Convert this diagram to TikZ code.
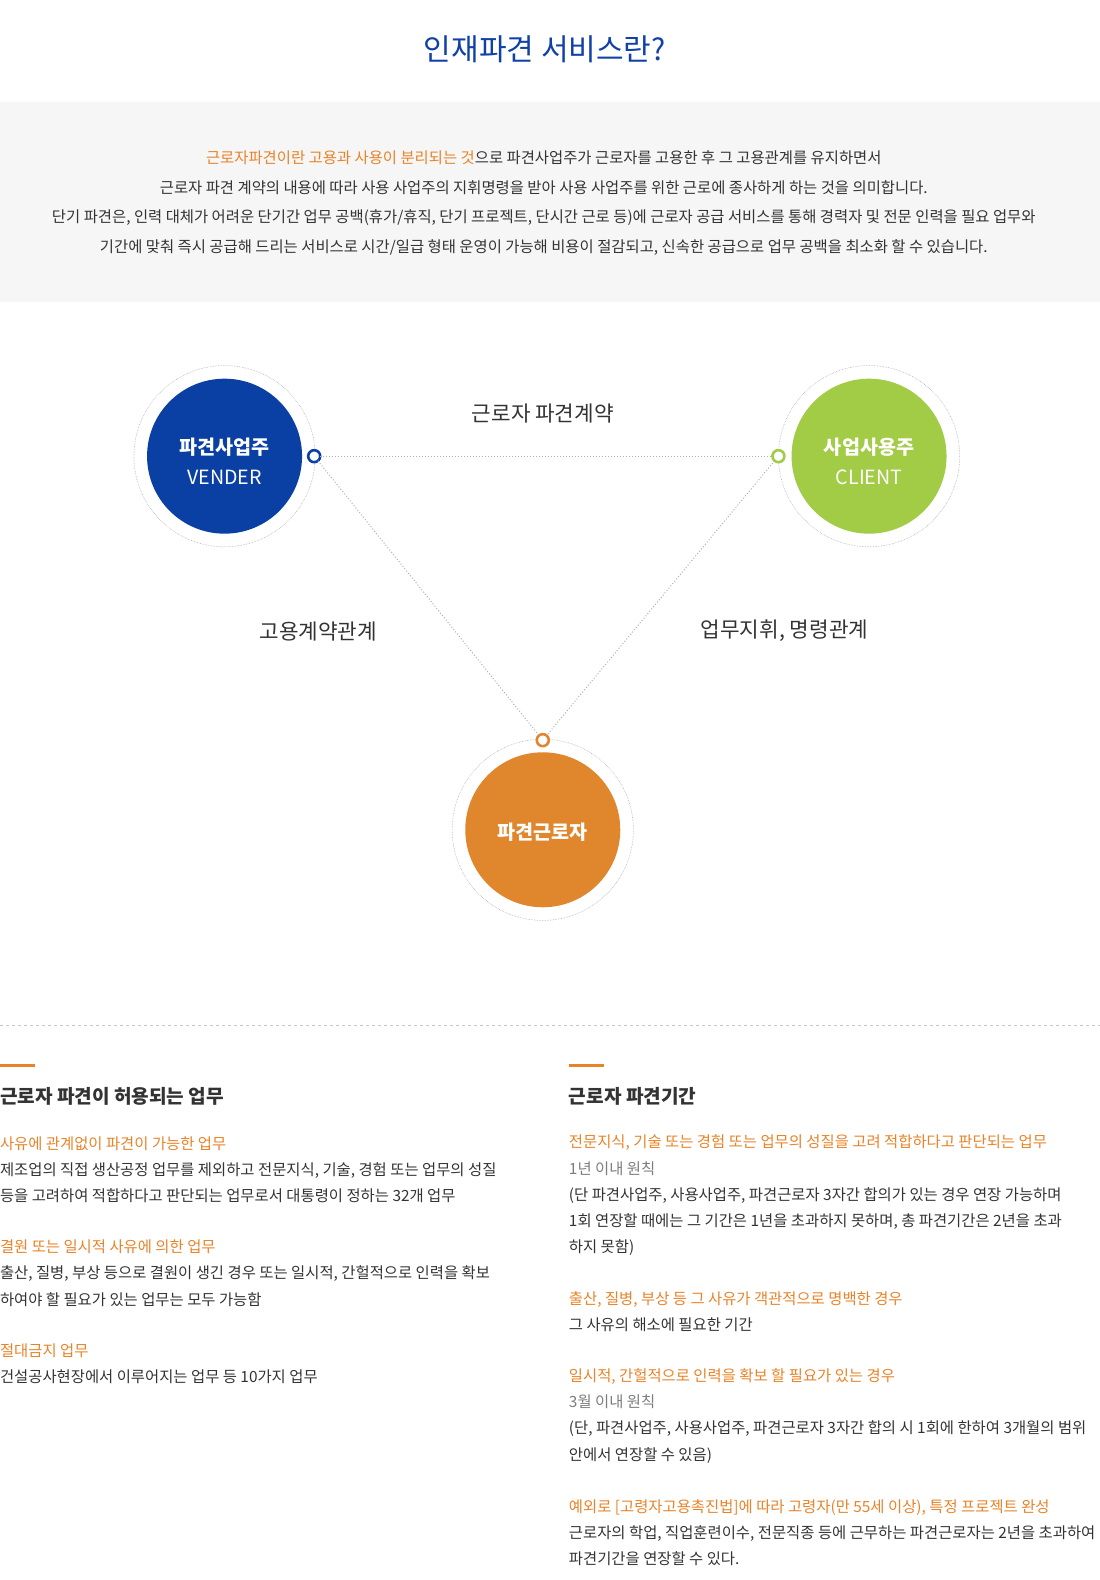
\documentclass[tikz,border=0pt]{standalone}
\usepackage{fontspec}
\setmainfont{Noto Sans CJK KR}
\usepackage{xcolor}
\definecolor{tblue}{RGB}{16,64,168}
\definecolor{vblue}{RGB}{10,63,163}
\definecolor{cgreen}{RGB}{162,203,70}
\definecolor{worange}{RGB}{224,135,46}
\definecolor{hlorange}{RGB}{232,131,40}
\definecolor{dark}{RGB}{51,51,51}
\definecolor{midgray}{RGB}{125,125,125}
\definecolor{linegray}{RGB}{175,175,175}
\definecolor{boxgray}{RGB}{246,246,246}
\usetikzlibrary{positioning}

\begin{document}
\begin{tikzpicture}[x=1.007pt,y=-1.007pt,every node/.style={inner sep=0pt,outer sep=0pt},
  txt/.style={anchor=base west,font=\fontsize{15.4}{15}\selectfont,text=dark},
  hl/.style={txt,text=hlorange},
  note/.style={txt,text=midgray},
  info/.style={anchor=base,font=\fontsize{15.4}{15}\selectfont,text=dark},
  big/.style={circle,minimum size=155pt},
  bigtext/.style={text=white,align=center,font=\fontsize{19.6}{30}\selectfont},
  halo/.style={draw=linegray,densely dotted,line width=.6pt},
  dotmark/.style={circle,draw=#1,fill=white,line width=2.6pt,minimum size=12pt},
  link/.style={draw=linegray,dotted,line width=1pt},
  rel/.style={font=\fontsize{21.3}{21}\selectfont,text=dark},
  head/.style={anchor=base west,font=\fontsize{19.1}{19}\selectfont\bfseries,text=dark},
  bar/.style={draw=hlorange,line width=3pt}]
\useasboundingbox (0pt,0pt) rectangle (1100pt,-1580pt);

% title and intro
\node[font=\fontsize{30}{30}\selectfont,text=tblue] (title) at (541,49) {인재파견 서비스란?};
\fill[boxgray] (0,101) rectangle (1092,300);
\node[info] (i1) at (540,162) {\textcolor{hlorange}{근로자파견이란 고용과 사용이 분리되는 것}으로 파견사업주가 근로자를 고용한 후 그 고용관계를 유지하면서};
\node[info] (i2) at (540,192) {근로자 파견 계약의 내용에 따라 사용 사업주의 지휘명령을 받아 사용 사업주를 위한 근로에 종사하게 하는 것을 의미합니다.};
\node[info] (i3) at (540,221) {단기 파견은, 인력 대체가 어려운 단기간 업무 공백(휴가/휴직, 단기 프로젝트, 단시간 근로 등)에 근로자 공급 서비스를 통해 경력자 및 전문 인력을 필요 업무와};
\node[info] (i4) at (540,251) {기간에 맞춰 즉시 공급해 드리는 서비스로 시간/일급 형태 운영이 가능해 비용이 절감되고, 신속한 공급으로 업무 공백을 최소화 할 수 있습니다.};

% triangle
\node[big,fill=vblue] (vender) at (223,453) {};
\node[big,fill=cgreen] (client) at (863,453) {};
\node[big,fill=worange] (worker) at (539,824) {};
\node[bigtext] (vname) at ([yshift=-5pt]vender.center) {\bfseries 파견사업주\\VENDER};
\node[bigtext] (cname) at ([yshift=-5pt]client.center) {\bfseries 사업사용주\\CLIENT};
\node[bigtext] (wname) at ([yshift=-2pt]worker.center) {\bfseries 파견근로자};
\draw[halo] (vender) circle[radius=90];
\draw[halo] (client) circle[radius=90];
\draw[halo] (worker) circle[radius=90];
\node[dotmark=vblue] (vdot) at (312,453) {};
\node[dotmark=cgreen] (cdot) at (773,453) {};
\node[dotmark=worange] (wdot) at (539,735) {};
\draw[link] (vdot) -- (cdot);
\draw[link] (vdot) -- (wdot);
\draw[link] (cdot) -- (wdot);
\node[rel] (contract) at (539,411) {근로자 파견계약};
\node[rel] (employ) at (316,627) {고용계약관계};
\node[rel] (command) at (779,626) {업무지휘, 명령관계};

\draw[linegray!70,dashed] (0,1018) -- (1092,1018);

% left column
\draw[bar] (0,1058) -- (35,1058);
\node[head] (lhead) at (0,1096) {근로자 파견이 허용되는 업무};
\foreach \y/\s/\t [count=\i] in {1133/hl/{사유에 관계없이 파견이 가능한 업무},
  1159/txt/{제조업의 직접 생산공정 업무를 제외하고 전문지식, 기술, 경험 또는 업무의 성질},
  1185/txt/{등을 고려하여 적합하다고 판단되는 업무로서 대통령이 정하는 32개 업무},
  1236/hl/{결원 또는 일시적 사유에 의한 업무},
  1262/txt/{출산, 질병, 부상 등으로 결원이 생긴 경우 또는 일시적, 간헐적으로 인력을 확보},
  1288/txt/{하여야 할 필요가 있는 업무는 모두 가능함},
  1339/hl/{절대금지 업무},
  1365/txt/{건설공사현장에서 이루어지는 업무 등 10가지 업무}}
  \node[\s] (l\i) at (0,\y+8) {\t};

% right column
\draw[bar] (565,1058) -- (600,1058);
\node[head] (rhead) at (565,1096) {근로자 파견기간};
\foreach \y/\s/\t [count=\i] in {1132/hl/{전문지식, 기술 또는 경험 또는 업무의 성질을 고려 적합하다고 판단되는 업무},
  1158/note/{1년 이내 원칙},
  1184/txt/{(단 파견사업주, 사용사업주, 파견근로자 3자간 합의가 있는 경우 연장 가능하며},
  1210/txt/{1회 연장할 때에는 그 기간은 1년을 초과하지 못하며, 총 파견기간은 2년을 초과},
  1236/txt/{하지 못함)},
  1287/hl/{출산, 질병, 부상 등 그 사유가 객관적으로 명백한 경우},
  1313/txt/{그 사유의 해소에 필요한 기간},
  1364/hl/{일시적, 간헐적으로 인력을 확보 할 필요가 있는 경우},
  1390/note/{3월 이내 원칙},
  1416/txt/{(단, 파견사업주, 사용사업주, 파견근로자 3자간 합의 시 1회에 한하여 3개월의 범위},
  1442/txt/{안에서 연장할 수 있음)},
  1494/hl/{예외로 [고령자고용촉진법]에 따라 고령자(만 55세 이상), 특정 프로젝트 완성},
  1520/txt/{근로자의 학업, 직업훈련이수, 전문직종 등에 근무하는 파견근로자는 2년을 초과하여},
  1546/txt/{파견기간을 연장할 수 있다.}}
  \node[\s] (r\i) at (565,\y+8) {\t};
\end{tikzpicture}
\end{document}
